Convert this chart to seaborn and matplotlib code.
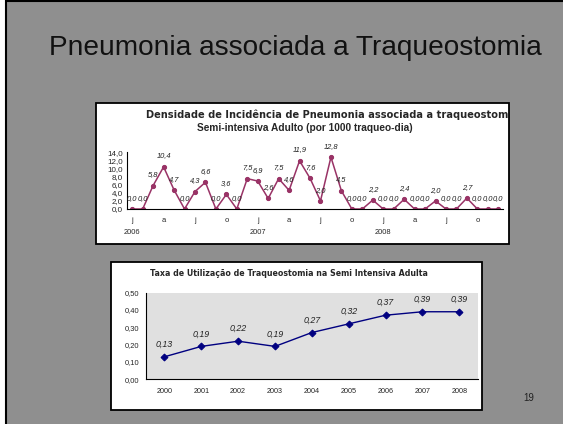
import matplotlib
matplotlib.use("Agg")
import matplotlib.pyplot as plt
import matplotlib.patches as patches
import seaborn as sns
import pandas as pd
import numpy as np

# monthly incidence density, Jan 2006 - Dec 2008
densidade = [0.0, 0.0, 5.8, 10.4, 4.7, 0.0, 4.3, 6.6, 0.0, 3.6, 0.0, 7.5,
             6.9, 2.6, 7.5, 4.6, 11.9, 7.6, 2.0, 12.8, 4.5, 0.0, 0.0, 2.2,
             0.0, 0.0, 2.4, 0.0, 0.0, 2.0, 0.0, 0.0, 2.7, 0.0, 0.0, 0.0]
mes_letras = ["j", "a", "j", "o"]
anos = ["2006", "2007", "2008"]

# yearly tracheostomy utilisation rate
anos_taxa = ["2000", "2001", "2002", "2003", "2004", "2005", "2006", "2007", "2008"]
taxa = [0.13, 0.19, 0.22, 0.19, 0.27, 0.32, 0.37, 0.39, 0.39]

W, H = 563, 424
SLIDE = "#8f8f8f"
sns.set_style("white")
plt.rcParams["font.family"] = ["Liberation Sans", "DejaVu Sans"]

fig = plt.figure(figsize=(W / 100, H / 100), dpi=100)
fig.patch.set_facecolor("white")


def box(x0, y0, x1, y1, z, **kw):
    # rectangle in pixel coords (top-left origin)
    r = patches.Rectangle((x0 / W, 1 - y1 / H), (x1 - x0) / W, (y1 - y0) / H,
                          transform=fig.transFigure, zorder=z, **kw)
    fig.patches.append(r)
    return r


def axes_px(x0, y0, x1, y1):
    a = fig.add_axes([x0 / W, 1 - y1 / H, (x1 - x0) / W, (y1 - y0) / H])
    a.set_zorder(1)
    return a


# slide background
box(6, 1, W + 5, H + 5, -3, facecolor=SLIDE, edgecolor="black", linewidth=1.5)
fig.text(295 / W, 1 - 48 / H, "Pneumonia associada a Traqueostomia",
         fontsize=20.2, ha="center", va="center", color="#111111")
fig.text(529 / W, 1 - 398 / H, "19", fontsize=7, ha="center", va="center", color="#222222")

# ---- chart 1 ----
b1 = box(96, 103, 509, 244, -2, facecolor="white", edgecolor="black", linewidth=1.3)
t1 = fig.text(146 / W, 1 - 115 / H,
              "Densidade de Incidência de Pneumonia associada a traqueostomia",
              fontsize=7.1, fontweight="bold", ha="left", va="center",
              family=["DejaVu Sans"])
t1.set_clip_path(b1)
fig.text(305 / W, 1 - 128 / H, "Semi-intensiva Adulto (por 1000 traqueo-dia)",
         fontsize=7.3, fontweight="bold", ha="center", va="center")

ax1 = axes_px(127, 152.3, 503.5, 209)
df1 = pd.DataFrame({"mes": np.arange(len(densidade)), "valor": densidade})
sns.lineplot(data=df1, x="mes", y="valor", ax=ax1, color="#993366", linewidth=1.1,
             marker="o", markersize=3, markeredgecolor="#993366")
ax1.set_xlim(-0.5, len(densidade) - 0.5)
ax1.set_ylim(0, 14)
ax1.patch.set_alpha(0)
for s in ["top", "right"]:
    ax1.spines[s].set_visible(False)
for s in ["left", "bottom"]:
    ax1.spines[s].set_color("black")
    ax1.spines[s].set_linewidth(0.8)
ax1.set_yticks(np.arange(0, 15, 2))
ax1.set_yticklabels([f"{v:.1f}".replace(".", ",") for v in np.arange(0, 15, 2)])
ax1.set_xticks(np.arange(-0.5, len(densidade), 1), minor=True)
pos = np.arange(0, len(densidade), 3)
labs = []
for p in pos:
    l = mes_letras[(p // 3) % 4]
    if p % 12 == 0:
        l = l + "\n" + anos[p // 12]
    labs.append(l)
ax1.set_xticks(pos)
ax1.set_xticklabels(labs, linespacing=1.9, va="top")
ax1.tick_params(axis="x", which="major", length=0, labelsize=5.4, pad=6)
ax1.tick_params(axis="x", which="minor", length=3, width=0.6, color="black", direction="out")
ax1.tick_params(axis="y", length=2, width=0.6, labelsize=5.8, pad=1, color="black", direction="out")
ax1.set_xlabel("")
ax1.set_ylabel("")
for i, v in enumerate(densidade):
    ax1.annotate(f"{v:.1f}".replace(".", ","), (i, v), xytext=(0, 7.8),
                 textcoords="offset points", ha="center", va="center",
                 fontsize=5.4, style="italic", color="#222222", annotation_clip=False)

# ---- chart 2 ----
box(111, 262, 482, 410, -2, facecolor="white", edgecolor="black", linewidth=1.3)
fig.text(289 / W, 1 - 273 / H,
         "Taxa de Utilização de Traqueostomia na Semi Intensiva Adulta",
         fontsize=5.7, fontweight="bold", ha="center", va="center",
         family=["DejaVu Sans"])

ax2 = axes_px(146, 292.7, 477.7, 379.3)
df2 = pd.DataFrame({"ano": np.arange(len(taxa)), "taxa": taxa})
sns.lineplot(data=df2, x="ano", y="taxa", ax=ax2, color="#000080", linewidth=1.0,
             marker="D", markersize=3.5, markeredgecolor="#000080")
ax2.set_xlim(-0.5, len(taxa) - 0.5)
ax2.set_ylim(0, 0.5)
ax2.set_facecolor("#e0e0e0")
for s in ["top", "right"]:
    ax2.spines[s].set_visible(False)
for s in ["left", "bottom"]:
    ax2.spines[s].set_color("black")
    ax2.spines[s].set_linewidth(0.8)
yt = np.arange(0, 0.51, 0.1)
ax2.set_yticks(yt)
ax2.set_yticklabels([f"{v:.2f}".replace(".", ",") for v in yt])
ax2.set_xticks(np.arange(-0.5, len(taxa), 1), minor=True)
ax2.set_xticks(np.arange(len(taxa)))
ax2.set_xticklabels(anos_taxa)
ax2.tick_params(axis="x", which="major", length=0, labelsize=5.2, pad=6)
ax2.tick_params(axis="x", which="minor", length=3, width=0.6, color="black", direction="out")
ax2.tick_params(axis="y", length=3, width=0.6, labelsize=5.4, pad=2, color="black", direction="out")
ax2.set_xlabel("")
ax2.set_ylabel("")
for i, v in enumerate(taxa):
    ax2.annotate(f"{v:.2f}".replace(".", ","), (i, v), xytext=(0, 9),
                 textcoords="offset points", ha="center", va="center",
                 fontsize=6.4, style="italic", color="#222222", annotation_clip=False)

fig.savefig("out.png", dpi=100, facecolor=fig.get_facecolor())
